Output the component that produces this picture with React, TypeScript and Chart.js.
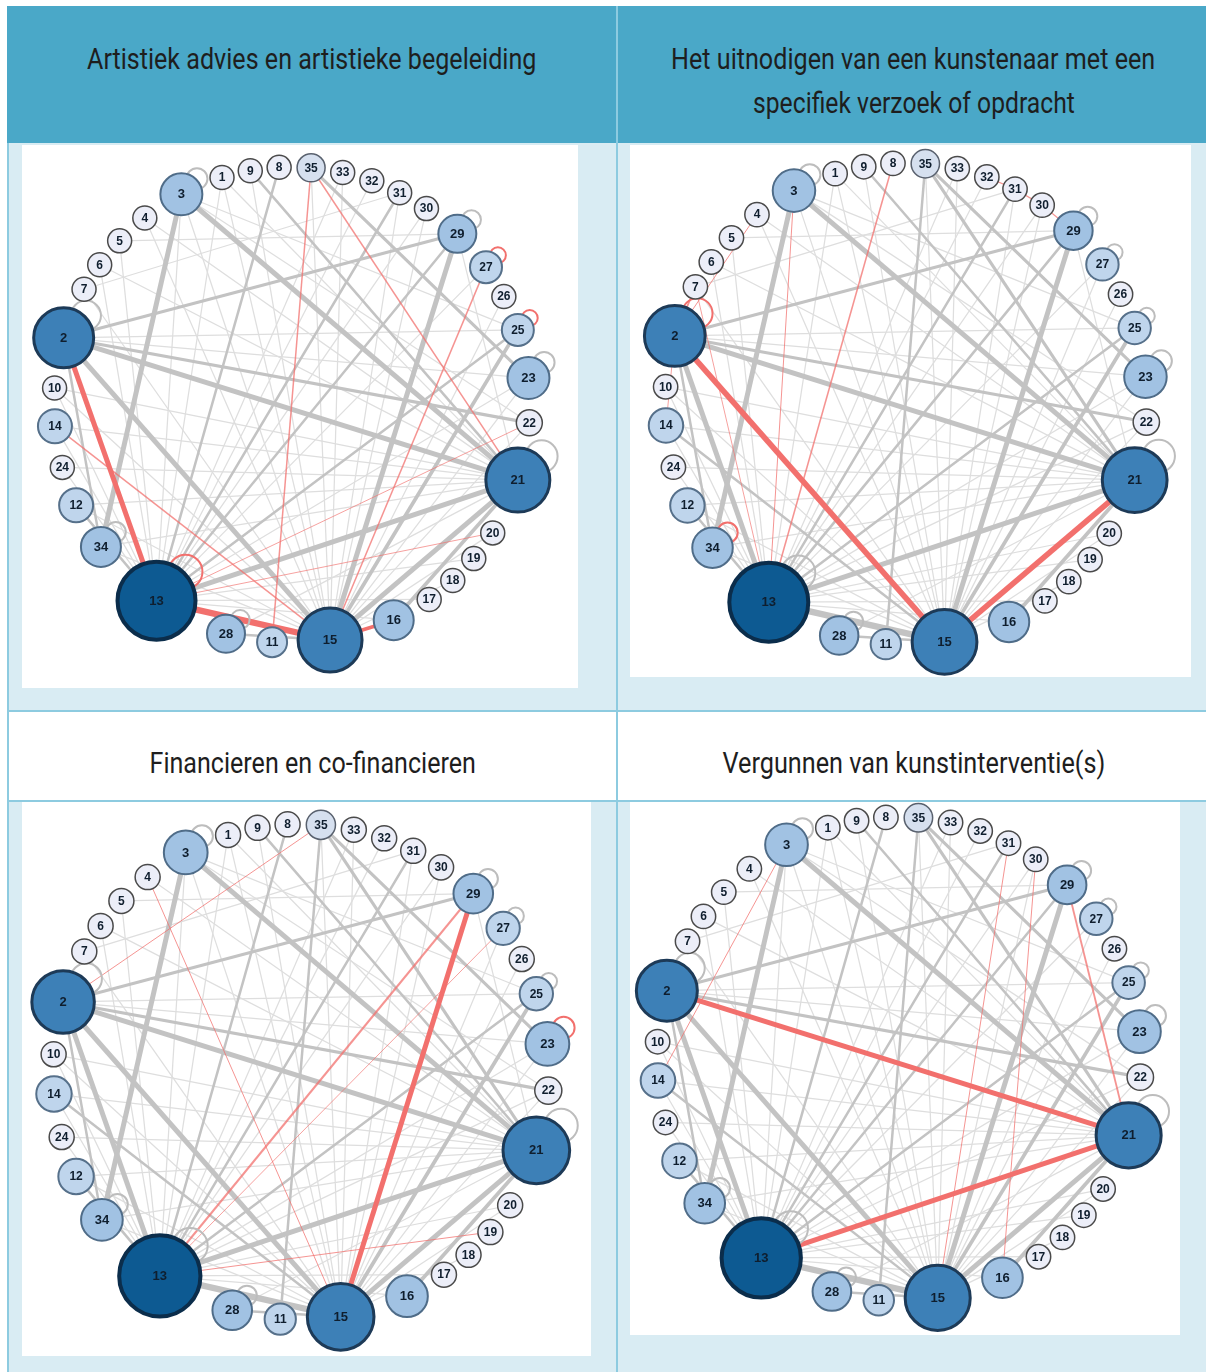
import React, { useEffect, useLayoutEffect, useRef } from "react";
import { Chart, registerables } from "chart.js";
Chart.register(...registerables);

// ---------- DATA ----------
const nodeIds = [35, 33, 32, 31, 30, 29, 27, 26, 25, 23, 22, 21, 20, 19, 18, 17, 16, 15, 11, 28, 13, 34, 12, 24, 14, 10, 2, 7, 6, 5, 4, 3, 1, 9, 8];
// angular position of each node on the circle (degrees, counter-clockwise from east)
const nodeAngles = [85.4, 77.7, 70.4, 63.1, 55.6, 46.0, 35.4, 27.1, 18.4, 6.5, -4.3, -18.4, -32.5, -40.2, -47.5, -54.8, -64.7, -80.8, -94.8, -106.1, -124.7, -143.4, -155.1, -164.8, -174.9, 175.9, 163.6, 150.9, 143.9, 136.4, 128.2, 117.7, 107.1, 100.1, 93.1];
// node degree (drives size and colour)
const nodeDegree = [5, 3, 3, 3, 3, 10, 7, 3, 7, 12, 4, 23, 3, 3, 3, 3, 11, 23, 6, 10, 30, 11, 8, 3, 8, 3, 21, 3, 3, 3, 3, 12, 3, 3, 3];

const panelTitles = [
  ["Artistiek advies en artistieke begeleiding"],
  ["Het uitnodigen van een kunstenaar met een", "specifiek verzoek of opdracht"],
  ["Financieren en co-financieren"],
  ["Vergunnen van kunstinterventie(s)"],
];

// [from, to, weight]
const baseEdges: [number, number, number][] = [
  [3, 21, 4], [3, 34, 4], [2, 21, 4], [2, 15, 4], [2, 13, 4], [21, 13, 4], [21, 15, 4], [29, 15, 4], [13, 15, 5],
  [2, 29, 2.5], [2, 22, 2.5], [25, 15, 3], [35, 21, 2.5], [35, 23, 2.5], [8, 13, 2], [31, 13, 2], [35, 11, 2],
  [9, 21, 2], [14, 15, 2], [25, 13, 2], [29, 13, 2], [21, 16, 3], [2, 34, 2], [12, 13, 2], [28, 15, 2],
  [3, 13, 1], [3, 15, 1], [1, 15, 1], [1, 21, 1], [4, 21, 1], [5, 13, 1], [6, 21, 1], [7, 15, 1], [10, 21, 1],
  [14, 21, 1], [24, 21, 1], [12, 21, 1], [12, 15, 1], [34, 15, 1], [24, 13, 1], [10, 13, 1], [33, 15, 1],
  [32, 13, 1], [30, 15, 1], [31, 15, 1], [27, 13, 1], [26, 15, 1], [22, 13, 1], [20, 13, 1], [19, 13, 1],
  [18, 15, 1], [17, 13, 1], [16, 13, 1], [23, 13, 1], [22, 15, 1], [3, 22, 1], [2, 23, 1], [2, 25, 1],
  [5, 29, 1], [7, 31, 1], [33, 13, 1], [9, 15, 1], [14, 13, 1], [27, 15, 1], [30, 13, 1], [20, 15, 1],
  [4, 15, 1], [6, 13, 1], [23, 15, 1], [34, 21, 1], [1, 13, 1], [3, 25, 1], [29, 21, 1], [35, 15, 1],
  [10, 15, 1], [21, 28, 1],
];
const redEdgesArtistiek: [number, number, number][] = [
  [2, 13, 4], [13, 15, 5], [15, 16, 3], [35, 21, 1.2], [35, 11, 1.2], [27, 15, 1.2], [14, 15, 1.2], [22, 13, 0.7], [20, 13, 0.7],
];
const redEdgesUitnodigen: [number, number, number][] = [
  [2, 15, 4.5], [21, 15, 4.5], [8, 13, 1.3], [3, 13, 0.8], [2, 4, 0.8], [32, 31, 1], [31, 30, 1], [30, 29, 1], [2, 7, 1.5], [2, 14, 0.7], [7, 13, 0.7],
];
const redEdgesFinancieren: [number, number, number][] = [
  [29, 15, 4], [29, 13, 1.8], [35, 2, 0.8], [4, 15, 0.8], [19, 13, 0.8], [27, 13, 0.7],
];
const redEdgesVergunnen: [number, number, number][] = [
  [2, 21, 4], [21, 13, 4], [29, 21, 1.5], [31, 15, 0.8], [30, 16, 0.8], [3, 14, 0.8],
];
const baseLoops = [3, 2, 34, 29, 27, 25, 23, 21, 28, 13];
const redLoopsArtistiek = [13, 27, 25];
const redLoopsUitnodigen = [2, 34];
const redLoopsFinancieren = [23];
const redLoopsVergunnen: number[] = [];

// ---------- STYLE HELPERS ----------
const RED = "#f2706d";
const RED_THIN = "rgba(242,112,109,0.75)";
const GRAY = "#c3c3c3";
const GRAY_THIN = "#dedede";
const HEADER_FONT = 'Roboto, "Liberation Sans", sans-serif';

function nodeRadius(deg: number) {
  return 9 + deg;
}
function nodeStyle(deg: number) {
  if (deg >= 28) return { fill: "#0d5a92", border: "#0b2d4b", bw: 4 };
  if (deg >= 18) return { fill: "#3d80b7", border: "#1d3a57", bw: 3 };
  if (deg >= 9) return { fill: "#a1c2e3", border: "#4f6c88", bw: 2 };
  if (deg >= 6) return { fill: "#bfd5ec", border: "#56708a", bw: 2 };
  if (deg >= 5) return { fill: "#d6e0ef", border: "#59616e", bw: 1.5 };
  return { fill: "#eceef8", border: "#4a4a4a", bw: 1.5 };
}

type Box = { left: number; top: number; w: number; h: number };

function NetworkPanel(props: {
  box: Box;
  cx: number;
  cy: number;
  R: number;
  redEdges: [number, number, number][];
  redLoops: number[];
}) {
  const ref = useRef<HTMLCanvasElement | null>(null);
  const { box, cx, cy, R, redEdges, redLoops } = props;

  useEffect(() => {
    if (!ref.current) return;
    const s = R / 238;
    const index = new Map(nodeIds.map((id, i) => [id, i]));
    const pos = (id: number) => {
      const a = (nodeAngles[index.get(id)!] * Math.PI) / 180;
      return { x: Math.cos(a), y: Math.sin(a) };
    };
    const key = (a: number, b: number) => (a < b ? `${a}-${b}` : `${b}-${a}`);
    const redKeys = new Set(redEdges.map((e) => key(e[0], e[1])));

    const datasets: any[] = [];
    datasets.push({
      label: "nodes",
      data: nodeIds.map((id) => pos(id)),
      pointRadius: nodeDegree.map((d) => nodeRadius(d) * s),
      pointHoverRadius: nodeDegree.map((d) => nodeRadius(d) * s),
      pointBackgroundColor: nodeDegree.map((d) => nodeStyle(d).fill),
      pointBorderColor: nodeDegree.map((d) => nodeStyle(d).border),
      pointBorderWidth: nodeDegree.map((d) => nodeStyle(d).bw),
      showLine: false,
      order: 0,
      clip: false,
    });
    baseLoops.forEach((id) => {
      const p = pos(id);
      const r = nodeRadius(nodeDegree[index.get(id)!]) * s;
      const off = (1.05 * r) / R;
      const a = Math.PI / 4;
      const isRed = redLoops.includes(id);
      datasets.push({
        label: "loop" + id,
        data: [{ x: p.x + off * Math.cos(a), y: p.y + off * Math.sin(a) }],
        pointRadius: Math.min(0.5 * r, 17 * s),
        pointBackgroundColor: "rgba(0,0,0,0)",
        pointBorderColor: isRed ? RED : "#bdbdbd",
        pointBorderWidth: 2,
        showLine: false,
        order: 1,
        clip: false,
      });
    });
    redEdges.forEach(([a, b, w]) => {
      datasets.push({
        label: "r" + key(a, b),
        data: [pos(a), pos(b)],
        showLine: true,
        borderColor: w >= 2 ? RED : RED_THIN,
        borderWidth: w * 1.25,
        pointRadius: 0,
        tension: 0,
        fill: false,
        order: 2,
        clip: false,
      });
    });
    baseEdges.forEach(([a, b, w]) => {
      if (redKeys.has(key(a, b))) return;
      datasets.push({
        label: "g" + key(a, b),
        data: [pos(a), pos(b)],
        showLine: true,
        borderColor: w >= 2 ? GRAY : GRAY_THIN,
        borderWidth: w * 1.25,
        pointRadius: 0,
        tension: 0,
        fill: false,
        order: w >= 2 ? 3 : 4,
        clip: false,
      });
    });

    const px = cx - box.left;
    const py = cy - box.top;
    const labelPlugin = {
      id: "nodeLabels",
      afterDatasetsDraw(chart: any) {
        const ctx = chart.ctx;
        const meta = chart.getDatasetMeta(0);
        ctx.save();
        ctx.textAlign = "center";
        ctx.textBaseline = "middle";
        ctx.fillStyle = "#0f1e2e";
        meta.data.forEach((pt: any, i: number) => {
          const big = nodeDegree[i] >= 9;
          ctx.font = `bold ${big ? 13 : 12}px "Liberation Sans", Arial, sans-serif`;
          ctx.fillText(String(nodeIds[i]), pt.x, pt.y + 0.5);
        });
        ctx.restore();
      },
    };

    const chart = new Chart(ref.current, {
      type: "scatter",
      data: { datasets },
      options: {
        animation: false,
        responsive: false,
        devicePixelRatio: 1,
        events: [],
        layout: { padding: 0, autoPadding: false },
        plugins: { legend: { display: false }, tooltip: { enabled: false } },
        scales: {
          x: { type: "linear", display: false, min: -px / R, max: (box.w - px) / R },
          y: { type: "linear", display: false, min: -(box.h - py) / R, max: py / R },
        },
      },
      plugins: [labelPlugin],
    } as any);
    return () => chart.destroy();
  }, []);

  return (
    <canvas
      ref={ref}
      width={box.w}
      height={box.h}
      style={{ position: "absolute", left: box.left, top: box.top, width: box.w, height: box.h, background: "#ffffff" }}
    />
  );
}

// a title line that is squeezed horizontally to the width it has in the original (condensed face)
function TitleLine(props: { text: string; centerX: number; centerY: number; width: number }) {
  const ref = useRef<HTMLSpanElement | null>(null);
  useLayoutEffect(() => {
    const el = ref.current;
    if (!el) return;
    const w = el.offsetWidth;
    const k = props.width / w;
    el.style.left = `${props.centerX - w / 2}px`;
    el.style.transform = `scaleX(${k})`;
  }, []);
  return (
    <span
      ref={ref}
      style={{
        position: "absolute",
        left: props.centerX,
        top: props.centerY - 22,
        fontFamily: HEADER_FONT,
        fontSize: 29,
        lineHeight: "44px",
        color: "#1e1e1e",
        whiteSpace: "nowrap",
        transformOrigin: "center center",
      }}
    >
      {props.text}
    </span>
  );
}

const BORDER = "#8dcbe0";
const BODY = "#d9ecf3";

export default function App() {
  return (
    <div style={{ position: "absolute", left: 0, top: 0, width: 1206, height: 1372, background: "#ffffff", overflow: "hidden" }}>
      <div style={{ position: "absolute", left: 7, top: 6, width: 1199, height: 137, background: "#4aa8c8" }} />
      <div style={{ position: "absolute", left: 7, top: 143, width: 1199, height: 567, background: BODY }} />
      <div style={{ position: "absolute", left: 7, top: 712, width: 1199, height: 88, background: "#ffffff" }} />
      <div style={{ position: "absolute", left: 7, top: 801, width: 1199, height: 571, background: BODY }} />
      <div style={{ position: "absolute", left: 616, top: 6, width: 2, height: 1366, background: BORDER }} />
      <div style={{ position: "absolute", left: 7, top: 143, width: 2, height: 1229, background: BORDER }} />
      <div style={{ position: "absolute", left: 7, top: 710, width: 1199, height: 2, background: BORDER }} />
      <div style={{ position: "absolute", left: 7, top: 800, width: 1199, height: 1.5, background: BORDER }} />

      <TitleLine text={panelTitles[0][0]} centerX={311.5} centerY={59} width={449} />
      <TitleLine text={panelTitles[1][0]} centerX={913} centerY={59} width={484} />
      <TitleLine text={panelTitles[1][1]} centerX={914} centerY={103} width={322} />
      <TitleLine text={panelTitles[2][0]} centerX={312} centerY={763} width={326} />
      <TitleLine text={panelTitles[3][0]} centerX={913.5} centerY={763} width={383} />

      <NetworkPanel box={{ left: 22, top: 145, w: 556, h: 543 }} cx={292} cy={405} R={238} redEdges={redEdgesArtistiek} redLoops={redLoopsArtistiek} />
      <NetworkPanel box={{ left: 630, top: 145, w: 561, h: 532 }} cx={906} cy={404} R={241} redEdges={redEdgesUitnodigen} redLoops={redLoopsUitnodigen} />
      <NetworkPanel box={{ left: 22, top: 802, w: 569, h: 554 }} cx={301} cy={1072} R={248} redEdges={redEdgesFinancieren} redLoops={redLoopsFinancieren} />
      <NetworkPanel box={{ left: 630, top: 802, w: 550, h: 533 }} cx={899} cy={1059} R={242} redEdges={redEdgesVergunnen} redLoops={redLoopsVergunnen} />
    </div>
  );
}
